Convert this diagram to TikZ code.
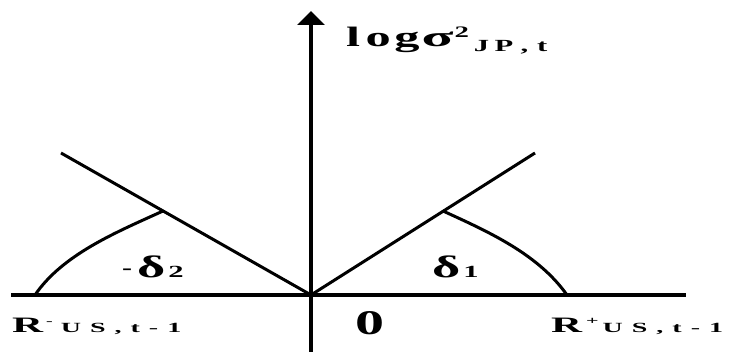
\documentclass[tikz,border=0pt]{standalone}
\usepackage{fontspec}
\usepackage{graphicx}
\setmainfont{Liberation Serif}
\usetikzlibrary{arrows.meta}
\newcommand\fz[2]{{\fontsize{#1}{#1}\selectfont #2}}
\newcommand\hs[2]{\scalebox{#1}[1]{#2}}
\tikzset{
  axisline/.style={line width=4pt},
  thinline/.style={line width=3pt},
  lbl/.style={inner sep=0pt, anchor=base west, font=\bfseries},
}
\begin{document}
\begin{tikzpicture}[x=1pt,y=-1pt]
\useasboundingbox (0,0) rectangle (740,352);
% axes points
\coordinate (O) at (311,295);
\coordinate (xl) at (11,295);
\coordinate (xr) at (686,295);
\coordinate (yb) at (311,352);
\coordinate (yt) at (311,11);
\coordinate (L) at (61,153);
\coordinate (Rt) at (535,153);
\coordinate (Li) at (163,211);
\coordinate (Ri) at (443,211);
\coordinate (La) at (35,295);
\coordinate (Ra) at (567,295);
% axes
\draw[axisline] (xl) -- (xr);
\draw[axisline, -{Triangle[width=27pt,length=14pt]}] (yb) -- (yt);
% slanted lines
\draw[thinline] (O) -- (L);
\draw[thinline] (O) -- (Rt);
% arcs
\draw[thinline] (Ri) .. controls (489,232) and (538,254) .. (Ra);
\draw[thinline] (Li) .. controls (117,232) and (63,254) .. (La);
% labels
\node[lbl] (ylab) at (346,47) {\hs{1.8}{\fz{28}{l\hspace{3pt}o\hspace{2pt}g}}\hspace{2pt}\hs{2.1}{\fz{28}{σ}}\hspace{1pt}\raisebox{9pt}{\hs{1.8}{\fz{16}{2}}}\hspace{5pt}\raisebox{-5pt}{\hs{1.8}{\fz{17}{J\hspace{3pt}P\hspace{4pt},\hspace{5pt}t}}}};
\node[lbl] (rneg) at (12,333) {\hs{1.95}{\fz{22}{R}}\hspace{3pt}\raisebox{8pt}{\hs{2}{\fz{10}{-}}}\hspace{8pt}\hs{2}{\fz{14}{U\hspace{4.5pt}S\hspace{4.5pt},\hspace{4.5pt}t\hspace{4.5pt}-\hspace{4.5pt}1}}};
\node[lbl] (rpos) at (551,333) {\hs{1.95}{\fz{22}{R}}\hspace{4pt}\raisebox{8pt}{\hs{2}{\fz{11}{+}}}\hspace{4pt}\hs{2}{\fz{14}{U\hspace{4.5pt}S\hspace{4.5pt},\hspace{4.5pt}t\hspace{4.5pt}-\hspace{4.5pt}1}}};
\node[inner sep=0pt, anchor=base west] (zero) at (355,335) {\resizebox{29pt}{23pt}{\bfseries 0}};
\node[lbl] (d1) at (432,278) {\hs{1.75}{\fz{31}{δ}}\hspace{3pt}\hs{1.8}{\fz{17}{1}}};
\node[lbl] (d2) at (122,278) {\raisebox{3pt}{\hs{1.5}{\fz{20}{-}}}\hspace{5pt}\hs{1.75}{\fz{31}{δ}}\hspace{3pt}\hs{1.8}{\fz{17}{2}}};
\end{tikzpicture}
\end{document}
